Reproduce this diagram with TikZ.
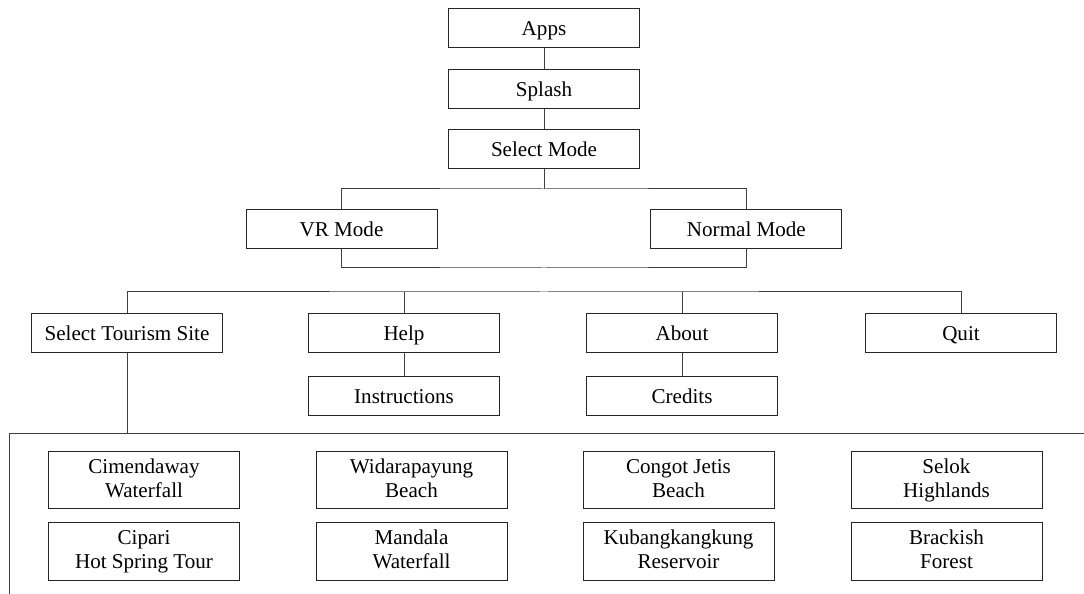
\documentclass[tikz,border=0pt]{standalone}
\usepackage{fontspec}
\setmainfont{Liberation Serif}

\begin{document}
\begin{tikzpicture}[font=\fontsize{15}{17.7}\selectfont]
	
	\tikzset{
		menubox/.style={draw=black!85,line width=0.7pt,minimum width=4.775cm,minimum height=0.975cm,inner sep=2pt,text height=10.5pt,text depth=0.5pt},
		sitebox/.style={draw=black!85,line width=0.7pt,minimum width=4.775cm,minimum height=1.425cm,inner sep=2pt,align=center},
		link/.style={draw=black!75,line width=0.7pt},
	}
	
	% fixed frame of the whole chart
	\useasboundingbox (0,0) rectangle (27.1,14.85);
	
	%========================================
	% Start-up chain
	%========================================
	\node[menubox] (apps)    at (13.6,14.1375) {Apps};
	\node[menubox] (splash)  at (13.6,12.6125) {Splash};
	\node[menubox] (selmode) at (13.6,11.1125) {Select Mode};
	
	\draw[link] (apps) -- (splash);
	\draw[link] (splash) -- (selmode);
	
	%========================================
	% Mode choice
	%========================================
	\node[menubox] (vr)     at (8.5375,9.125) {VR Mode};
	\node[menubox] (normal) at (18.66,9.125)  {Normal Mode};
	
	\coordinate (modeTop) at (13.6,10.125);
	\coordinate (modeLow) at (13.6,8.15);
	
	% split above, join below
	\draw[link] (selmode) -- (modeTop);
	\draw[link] (vr.north) |- (modeTop) -| (normal.north);
	\draw[link] (vr.south) |- (modeLow) -| (normal.south);
	
	%========================================
	% Main menu
	%========================================
	\node[menubox] (site)  at (3.175,6.525)  {Select Tourism Site};
	\node[menubox] (help)  at (10.1,6.525)   {Help};
	\node[menubox] (about) at (17.05,6.525)  {About};
	\node[menubox] (quit)  at (24.025,6.525) {Quit};
	
	\node[menubox] (instr)   at (10.1,4.95)  {Instructions};
	\node[menubox] (credits) at (17.05,4.95) {Credits};
	
	\coordinate (menuBus) at (13.6,7.55);
	
	\draw[link] (site.north) |- (menuBus) -| (quit.north);
	\draw[link] (help.north) -- (help.north |- menuBus);
	\draw[link] (about.north) -- (about.north |- menuBus);
	\draw[link] (help) -- (instr);
	\draw[link] (about) -- (credits);
	
	%========================================
	% Tourism sites
	%========================================
	\coordinate (siteW) at (0.225,4.0);
	\coordinate (siteE) at (27.1,4.0);
	\coordinate (siteS) at (0.225,0);
	
	\draw[link] (site.south) -- (site.south |- siteW);
	\draw[link] (siteE) -- (siteW) -- (siteS);
	
	\node[sitebox] (cimendaway) at (3.6,2.8375)     {Cimendaway\strut\\Waterfall\strut};
	\node[sitebox] (widara)     at (10.2875,2.8375) {Widarapayung\strut\\Beach\strut};
	\node[sitebox] (congot)     at (16.9625,2.8375) {Congot Jetis\strut\\Beach\strut};
	\node[sitebox] (selok)      at (23.6625,2.8375) {Selok\strut\\Highlands\strut};
	
	\node[sitebox] (cipari)     at (3.6,1.0625)     {Cipari\strut\\Hot Spring Tour\strut};
	\node[sitebox] (mandala)    at (10.2875,1.0625) {Mandala\strut\\Waterfall\strut};
	\node[sitebox] (kubang)     at (16.9625,1.0625) {Kubangkangkung\strut\\Reservoir\strut};
	\node[sitebox] (brackish)   at (23.6625,1.0625) {Brackish\strut\\Forest\strut};
	
\end{tikzpicture}
\end{document}
